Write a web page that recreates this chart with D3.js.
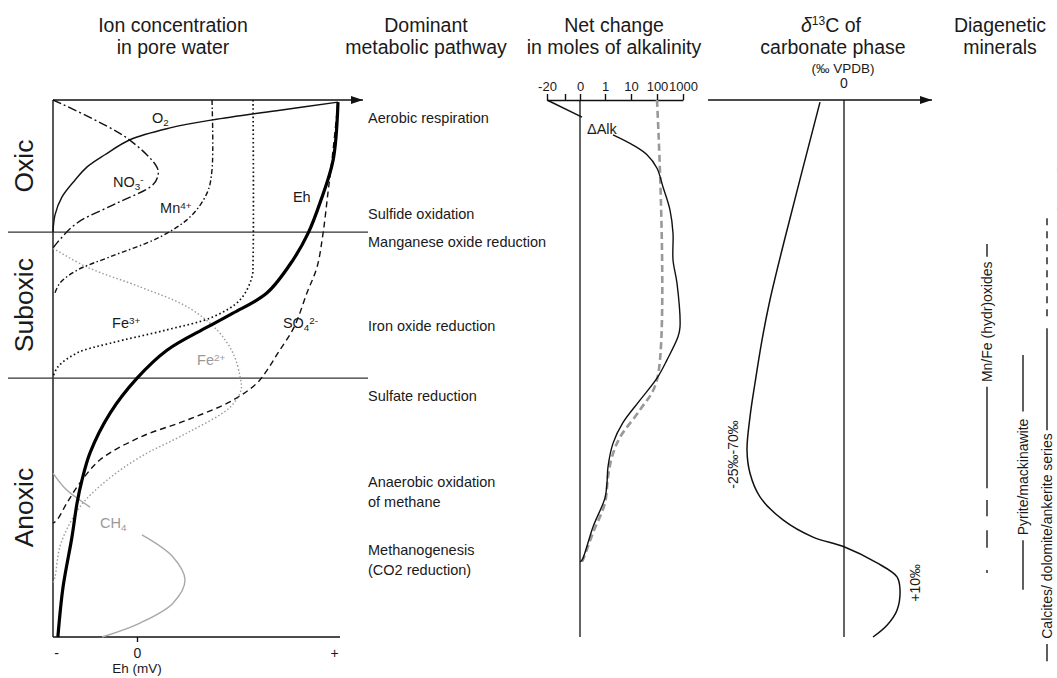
<!DOCTYPE html>
<html><head><meta charset="utf-8">
<script src="https://cdn.jsdelivr.net/npm/d3@7"></script>
<style>
body{margin:0;background:#fff}
text{font-family:"Liberation Sans",Arial,Helvetica,sans-serif;fill:#1a1a1a}
</style>
</head><body>
<svg id="c" width="1057" height="678"></svg>
<script>
// ---------- DATA (x in relative concentration %, depth in % of column) ----------
const zoneNames = ["Oxic","Suboxic","Anoxic"];
const zoneBounds = [0, 24.6, 51.8, 100];

const o2 = [[0,24.6],[0.7,21.4],[3.1,18.1],[7.7,14.9],[11.8,12.5],[18.1,10.2],[26.8,7.4],[40.8,5.2],[55.7,3.7],[79.1,1.9],[99.3,0.4]];
const eh = [[99.3,0.4],[97.6,11.2],[93,19.2],[88.9,24.8],[83.6,29.8],[74.6,35.9],[62.7,39.7],[53.7,42.3],[39.7,46.6],[29.3,51.8],[19.9,58.3],[12.9,65.7],[10.1,70.8],[8.4,75.0],[6.6,81.4],[3.5,90.7],[1.7,100]];
const no3 = [[0,0],[25.8,7.1],[36.2,12.5],[36.6,14.0],[34.8,15.8],[22.3,19.2],[8.4,22.9],[1.4,26.6],[0,27.6]];
const mn4 = [[55.4,0],[55.4,13],[53.7,17.3],[47.7,21.8],[37.3,25.5],[19.9,29.2],[8.4,31.7],[2.4,34.1],[0.7,35.9]];
const fe3 = [[69.7,0],[69.7,29.8],[69.3,33.0],[65.2,37.2],[55.7,40.4],[39.7,42.8],[19.9,45.3],[8.4,47.1],[1.7,49.7],[0,51.6]];
const fe2 = [[0,27.6],[11.8,31.1],[30.3,34.8],[46.7,38.5],[57.1,42.8],[62.7,47.1],[65.2,51.6],[65.5,54.0],[61.7,57.2],[46.7,62.0],[30.3,66.5],[18.8,70.8],[10.5,75.0],[5.9,78.8],[2.4,83.2],[0.7,88.8],[0,89.9]];
const so4 = [[99.3,0.4],[97.2,11.2],[95.8,17.3],[94.1,24.8],[92.0,31.1],[88.5,35.9],[84,42.3],[78.5,47.0],[74.6,50.3],[71.1,52.7],[62.7,55.9],[46.7,59.6],[30.3,62.8],[16.4,67.0],[9.4,71.3],[4.9,75.0],[1.4,78.2],[0,78.8]];
const ch4Upper = [[0,69.5],[4.5,72.5],[12.9,75.8]];
const ch4Lower = [[31.0,81.0],[41.8,85.1],[46.0,89.4],[41.8,93.7],[30.3,97.4],[17.1,100]];

const ionLabels = [
  {parts:[["O",""],["2","sub"]], x:34.5, y:4.3, gray:false},
  {parts:[["NO",""],["3","sub"],["-","sup"]], x:20.9, y:16.2, gray:false},
  {parts:[["Mn",""],["4+","sup"]], x:37.3, y:21.0, gray:false},
  {parts:[["Eh",""]], x:83.6, y:19.0, gray:false},
  {parts:[["Fe",""],["3+","sup"]], x:20.6, y:42.5, gray:false},
  {parts:[["SO",""],["4","sub"],["2-","sup"]], x:80.1, y:42.5, gray:false},
  {parts:[["Fe",""],["2+","sup"]], x:50.2, y:49.3, gray:true},
  {parts:[["CH",""],["4","sub"]], x:16.4, y:79.7, gray:true}
];

const ehTicks = [-1, 0, 1];
const ehTickLabels = ["-", "0", "+"];

const pathwayLabels = [
  ["Aerobic respiration", 4.3],
  ["Sulfide oxidation", 22.2],
  ["Manganese oxide reduction", 27.4],
  ["Iron oxide reduction", 43.0],
  ["Sulfate reduction", 56.1],
  ["Anaerobic oxidation", 72.1],
  ["of methane", 75.8],
  ["Methanogenesis", 84.7],
  ["(CO2 reduction)", 88.5]
];

const alkTicks = [-20, -10, 0, 1, 10, 100, 1000];
const alkTickLabels = ["-20", "", "0", "1", "10", "100", "1000"];
const alkTop = [[-20,0],[0.08,3.2]];
const alkCurve = [[3.77,6.5],[16.9,8.4],[65.4,10.2],[100,12.7],[308,16.2],[550,20.5],[654,24.8],[654,29.8],[792,34.1],[896,42.3],[827,44.1],[446,48.4],[100,51.8],[41.2,55.9],[7.2,60.1],[3.8,63.9],[2.04,68.3],[1.69,71.3],[1.0,74.1],[0.52,79.5],[0.08,85.7],[0,86.0]];
const alkRef = [[100,0],[100,52.1],[41.2,57.7],[6.2,62.8],[3.4,66.5],[2.04,70.2],[1,75.0],[0.52,80.6],[0.08,86.0],[0,86.6]];

const d13c = [[-6,0.4],[-14.75,25.7],[-18.5,37.2],[-20.5,44.7],[-22.25,52.7],[-23.5,59.0],[-24.25,65.2],[-23.5,69.5],[-21,73.9],[-15.25,78.2],[-7.75,81.4],[0,83.2],[8.25,86.2],[13.25,88.8],[14,91.2],[13.25,95.0],[10.75,97.8],[7.25,100]];
const d13Labels = [["-25‰-70‰", -27.7, 66.0], ["+10‰", 17.75, 89.9]];

const mineralNames = ["Mn/Fe (hydr)oxides", "Pyrite/mackinawite", "Calcites/ dolomite/ankerite series"];
const mineralLabelDepth = [41.3, 70.2, 81.2];
const mnFeRanges = [[26.8,29.2],[53.4,72.3],[74.5,77.5],[80.1,83.4],[87.5,88.1]];
const pyriteRanges = [[47.5,58.0],[82.0,91.2]];
const calciteRanges = [[42.5,61.5],[101.3,104.5]];
const calciteDashed = [[22.0,41.3]];

// ---------- DRAWING ----------
const svg = d3.select("#c");
svg.append("rect").attr("width",1057).attr("height",678).attr("fill","#fff");
const defs = svg.append("defs");
defs.append("marker").attr("id","arr").attr("markerUnits","userSpaceOnUse")
  .attr("markerWidth",12).attr("markerHeight",8).attr("refX",12).attr("refY",4).attr("orient","auto")
  .append("path").attr("d","M0,0L12,4L0,8Z").attr("fill","#111");

const y = d3.scaleLinear().domain([0,100]).range([100,637]);
const xIon = d3.scaleLinear().domain([0,100]).range([53,340]);
const xEh = d3.scaleLinear().domain([-1,0,1]).range([56,137,334]);
const xAlk = d3.scaleLinear().domain(alkTicks).range([547,565,580,605,631,657,683]);
const xD = d3.scaleLinear().domain([-34,22]).range([708,932]);

const font = "\"Liberation Sans\",Arial,sans-serif";
const TS = 19.5;

// titles
const titles = [
  [["Ion concentration","in pore water"],173],
  [["Dominant","metabolic pathway"],426],
  [["Net change","in moles of alkalinity"],614],
  [["Diagenetic","minerals"],1000]
];
titles.forEach(([lines,cx])=>{
  lines.forEach((t,i)=>svg.append("text").attr("x",cx).attr("y",32+i*22)
    .attr("text-anchor","middle").attr("font-size",TS).text(t));
});
// delta13C title
const dt = svg.append("text").attr("x",831).attr("y",32).attr("text-anchor","middle").attr("font-size",TS);
dt.append("tspan").attr("font-style","italic").text("δ");
dt.append("tspan").attr("font-size",12).attr("dy",-7).text("13");
dt.append("tspan").attr("dy",7).text("C of");
svg.append("text").attr("x",833).attr("y",54).attr("text-anchor","middle").attr("font-size",TS).text("carbonate phase");
svg.append("text").attr("x",843).attr("y",73).attr("text-anchor","middle").attr("font-size",13.5).text("(‰ VPDB)");

// ---- Panel 1 ----
const p1 = svg.append("g");
p1.append("line").attr("x1",xIon(0)).attr("x2",xIon(108)).attr("y1",y(0)).attr("y2",y(0))
  .attr("stroke","#111").attr("stroke-width",1.4).attr("marker-end","url(#arr)");
p1.append("line").attr("x1",xIon(0)).attr("x2",xIon(0)).attr("y1",y(0)).attr("y2",y(100))
  .attr("stroke","#111").attr("stroke-width",1.4);
p1.append("line").attr("x1",xIon(0)).attr("x2",xIon(100)).attr("y1",y(100)).attr("y2",y(100))
  .attr("stroke","#111").attr("stroke-width",1.4);
const ax = p1.append("g").attr("transform",`translate(0,${y(100)})`)
  .call(d3.axisBottom(xEh).tickValues(ehTicks).tickFormat((d,i)=>ehTickLabels[i]).tickSize(5).tickSizeOuter(0));
ax.select(".domain").remove();
ax.selectAll(".tick line").attr("stroke","#111").attr("stroke-width",1.4).filter(d=>d!==0).remove();
ax.selectAll(".tick text").attr("font-size",14).attr("font-family",font).attr("fill","#1a1a1a").attr("dy","0.95em");
p1.append("text").attr("x",xEh(0)).attr("y",673).attr("text-anchor","middle").attr("font-size",13.5).text("Eh (mV)");

// zone lines and labels
zoneBounds.slice(1,3).forEach(b=>{
  p1.append("line").attr("x1",8).attr("x2",368).attr("y1",y(b)).attr("y2",y(b))
    .attr("stroke","#333").attr("stroke-width",1.3);
});
zoneNames.forEach((n,i)=>{
  const cy = y((zoneBounds[i]+zoneBounds[i+1])/2);
  p1.append("text").attr("transform",`translate(33,${cy}) rotate(-90)`)
    .attr("text-anchor","middle").attr("font-size",26.5).text(n);
});

const lineIon = d3.line().x(d=>xIon(d[0])).y(d=>y(d[1])).curve(d3.curveCatmullRom.alpha(0.5));
const curves = [
  [fe2,"#9a9a9a",1.4,"1.5,2.2"],
  [ch4Upper,"#a8a8a8",1.4,null],
  [ch4Lower,"#a8a8a8",1.4,null],
  [o2,"#111",1.4,null],
  [no3,"#111",1.4,"9,3,2,3"],
  [mn4,"#111",1.4,"5,2.5,1.5,2.5"],
  [fe3,"#111",1.7,"1.6,2.6"],
  [so4,"#111",1.4,"6,4"],
  [eh,"#000",3.2,null]
];
curves.forEach(([d,c,w,da])=>{
  const p = p1.append("path").attr("d",lineIon(d)).attr("fill","none").attr("stroke",c).attr("stroke-width",w);
  if(da) p.attr("stroke-dasharray",da);
});

function richText(g, parts, x, yy, size, color){
  const t = g.append("text").attr("x",x).attr("y",yy).attr("font-size",size).style("fill",color);
  parts.forEach(([s,kind])=>{
    const ts = t.append("tspan").text(s);
    if(kind==="sub") ts.attr("font-size",size*0.68).attr("baseline-shift","-25%");
    if(kind==="sup") ts.attr("font-size",size*0.68).attr("baseline-shift","45%");
  });
  return t;
}
ionLabels.forEach(l=>richText(p1,l.parts,xIon(l.x),y(l.y),14.5,l.gray?"#9a9a9a":"#1a1a1a"));

// ---- Panel 2: pathways ----
pathwayLabels.forEach(([t,d])=>{
  svg.append("text").attr("x",368).attr("y",y(d)).attr("font-size",14.5).text(t);
});

// ---- Panel 3: alkalinity ----
const p3 = svg.append("g");
const aax = p3.append("g").attr("transform",`translate(0,${y(0)})`)
  .call(d3.axisTop(xAlk).tickValues(alkTicks).tickFormat((d,i)=>alkTickLabels[i]).tickSize(6).tickSizeOuter(0));
aax.select(".domain").attr("stroke","#111").attr("stroke-width",1.4);
aax.selectAll(".tick line").attr("stroke","#111").attr("stroke-width",1.4);
aax.selectAll(".tick text").attr("font-size",13).attr("font-family",font).attr("fill","#1a1a1a");
p3.append("line").attr("x1",xAlk(0)).attr("x2",xAlk(0)).attr("y1",y(0)).attr("y2",y(100))
  .attr("stroke","#111").attr("stroke-width",1.3);
const lineAlk = d3.line().x(d=>xAlk(d[0])).y(d=>y(d[1])).curve(d3.curveCatmullRom.alpha(0.5));
p3.append("path").attr("d",lineAlk(alkRef)).attr("fill","none").attr("stroke","#999")
  .attr("stroke-width",2.6).attr("stroke-dasharray","7,4");
p3.append("path").attr("d",d3.line().x(d=>xAlk(d[0])).y(d=>y(d[1]))(alkTop)).attr("fill","none")
  .attr("stroke","#111").attr("stroke-width",1.4);
p3.append("path").attr("d",lineAlk(alkCurve)).attr("fill","none").attr("stroke","#111").attr("stroke-width",1.4);
p3.append("text").attr("x",xAlk(0.28)).attr("y",y(6.3)).attr("font-size",14.5).text("ΔAlk");

// ---- Panel 4: d13C ----
const p4 = svg.append("g");
p4.append("line").attr("x1",xD(-34)).attr("x2",xD(22)).attr("y1",y(0)).attr("y2",y(0))
  .attr("stroke","#111").attr("stroke-width",1.4).attr("marker-end","url(#arr)");
p4.append("text").attr("x",xD(0)).attr("y",88).attr("text-anchor","middle").attr("font-size",14).text("0");
p4.append("line").attr("x1",xD(0)).attr("x2",xD(0)).attr("y1",y(0)).attr("y2",y(100))
  .attr("stroke","#111").attr("stroke-width",1.3);
const lineD = d3.line().x(d=>xD(d[0])).y(d=>y(d[1])).curve(d3.curveCatmullRom.alpha(0.5));
p4.append("path").attr("d",lineD(d13c)).attr("fill","none").attr("stroke","#111").attr("stroke-width",1.5);
d13Labels.forEach(([t,v,d])=>{
  p4.append("text").attr("transform",`translate(${xD(v)},${y(d)}) rotate(-90)`)
    .attr("text-anchor","middle").attr("dominant-baseline","central").attr("font-size",14).text(t);
});

// ---- Panel 5: minerals ----
const p5 = svg.append("g");
const mineralX = [987, 1023, 1047];
const mineralSolid = [mnFeRanges, pyriteRanges, calciteRanges];
mineralNames.forEach((n,i)=>{
  p5.append("text").attr("transform",`translate(${mineralX[i]},${y(mineralLabelDepth[i])}) rotate(-90)`)
    .attr("text-anchor","middle").attr("dominant-baseline","central").attr("font-size",14).text(n);
  mineralSolid[i].forEach(([a,b])=>{
    p5.append("line").attr("x1",mineralX[i]).attr("x2",mineralX[i]).attr("y1",y(a)).attr("y2",y(b))
      .attr("stroke","#1a1a1a").attr("stroke-width",1.4);
  });
});
calciteDashed.forEach(([a,b])=>{
  p5.append("line").attr("x1",mineralX[2]).attr("x2",mineralX[2]).attr("y1",y(a)).attr("y2",y(b))
    .attr("stroke","#1a1a1a").attr("stroke-width",1.4).attr("stroke-dasharray","7,6");
});
p5.append("text").attr("transform",`translate(1061,${y(15.8)}) rotate(-90)`)
  .attr("text-anchor","middle").attr("dominant-baseline","central").attr("font-size",13)
  .style("fill","#999").text("Aragonite");
</script>
</body></html>
